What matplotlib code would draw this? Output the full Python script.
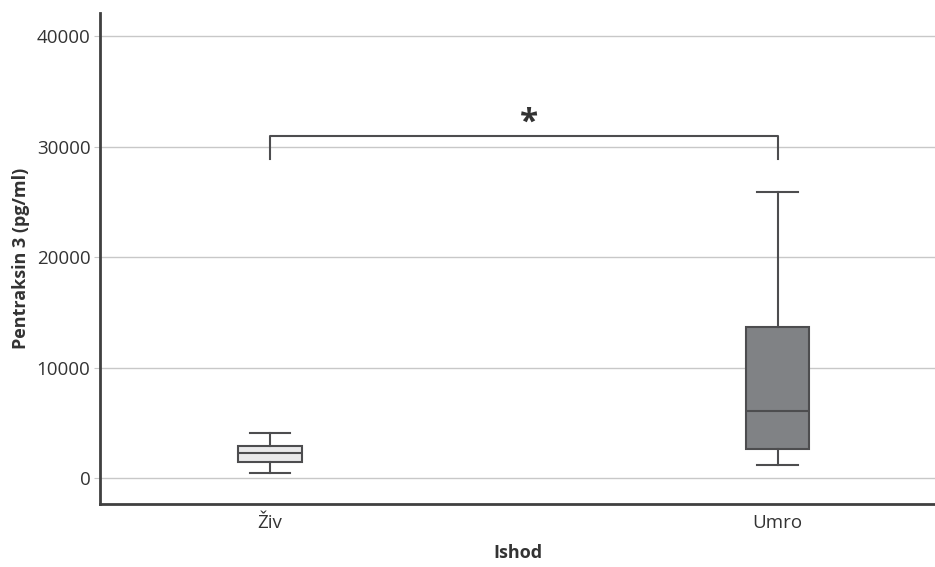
import matplotlib.pyplot as plt

# Podaci procijenjeni sa slike (Pentraksin 3, pg/ml)
kategorije = ['Živ', 'Umro']
donji_brk = [450, 1180]
q1 = [1450, 2620]
medijana = [2260, 6060]
q3 = [2900, 13670]
gornji_brk = [4050, 25900]
boje = ['#e9e9ea', '#808285']
y_tikovi = [0, 10000, 20000, 30000, 40000]
zagrada_y = 31000
zagrada_noge = 28900
oznaka = '*'

plt.rcParams['font.family'] = ['Open Sans', 'DejaVu Sans']

stats = []
for i in range(len(kategorije)):
    stats.append({'label': kategorije[i], 'whislo': donji_brk[i], 'q1': q1[i],
                  'med': medijana[i], 'q3': q3[i], 'whishi': gornji_brk[i], 'fliers': []})

fig = plt.figure(figsize=(9.35, 5.67), dpi=100)
ax = fig.add_axes([0.107, 0.111, 0.893, 0.866])

linija = '#4d4d4f'
bp = ax.bxp(stats, positions=[0, 1], widths=0.125, patch_artist=True,
            boxprops=dict(edgecolor=linija, linewidth=1.5),
            medianprops=dict(color=linija, linewidth=1.5),
            whiskerprops=dict(color=linija, linewidth=1.5),
            capprops=dict(color=linija, linewidth=1.5),
            capwidths=0.08, zorder=3)
for kutija, boja in zip(bp['boxes'], boje):
    kutija.set_facecolor(boja)

# Zagrada za znacajnost
ax.plot([0, 0, 1, 1], [zagrada_noge, zagrada_y, zagrada_y, zagrada_noge],
        color=linija, linewidth=1.5, zorder=3)
ax.text(0.51, zagrada_y + 1100, oznaka, ha='center', va='center', fontsize=24,
        fontweight='bold', color='#333333')

ax.set_xlim(-0.335, 1.31)
ax.set_ylim(-2350, 42100)
ax.set_yticks(y_tikovi)
ax.set_xticks([0, 1])
ax.set_xticklabels(kategorije)
ax.yaxis.grid(True, color='#c8c8c8', linewidth=1)
ax.set_axisbelow(True)

for s in ['top', 'right']:
    ax.spines[s].set_visible(False)
for s in ['left', 'bottom']:
    ax.spines[s].set_color('#404040')
    ax.spines[s].set_linewidth(2)

ax.tick_params(axis='y', length=4, color='#c8c8c8', labelsize=13.5, labelcolor='#333333', pad=3)
ax.tick_params(axis='x', length=0, labelsize=13.5, labelcolor='#333333', pad=7)

ax.set_ylabel('Pentraksin 3 (pg/ml)', fontsize=13, fontweight='bold', color='#333333', labelpad=5)
ax.set_xlabel('Ishod', fontsize=13, fontweight='bold', color='#333333', labelpad=9)

fig.savefig('out.png', dpi=100)
